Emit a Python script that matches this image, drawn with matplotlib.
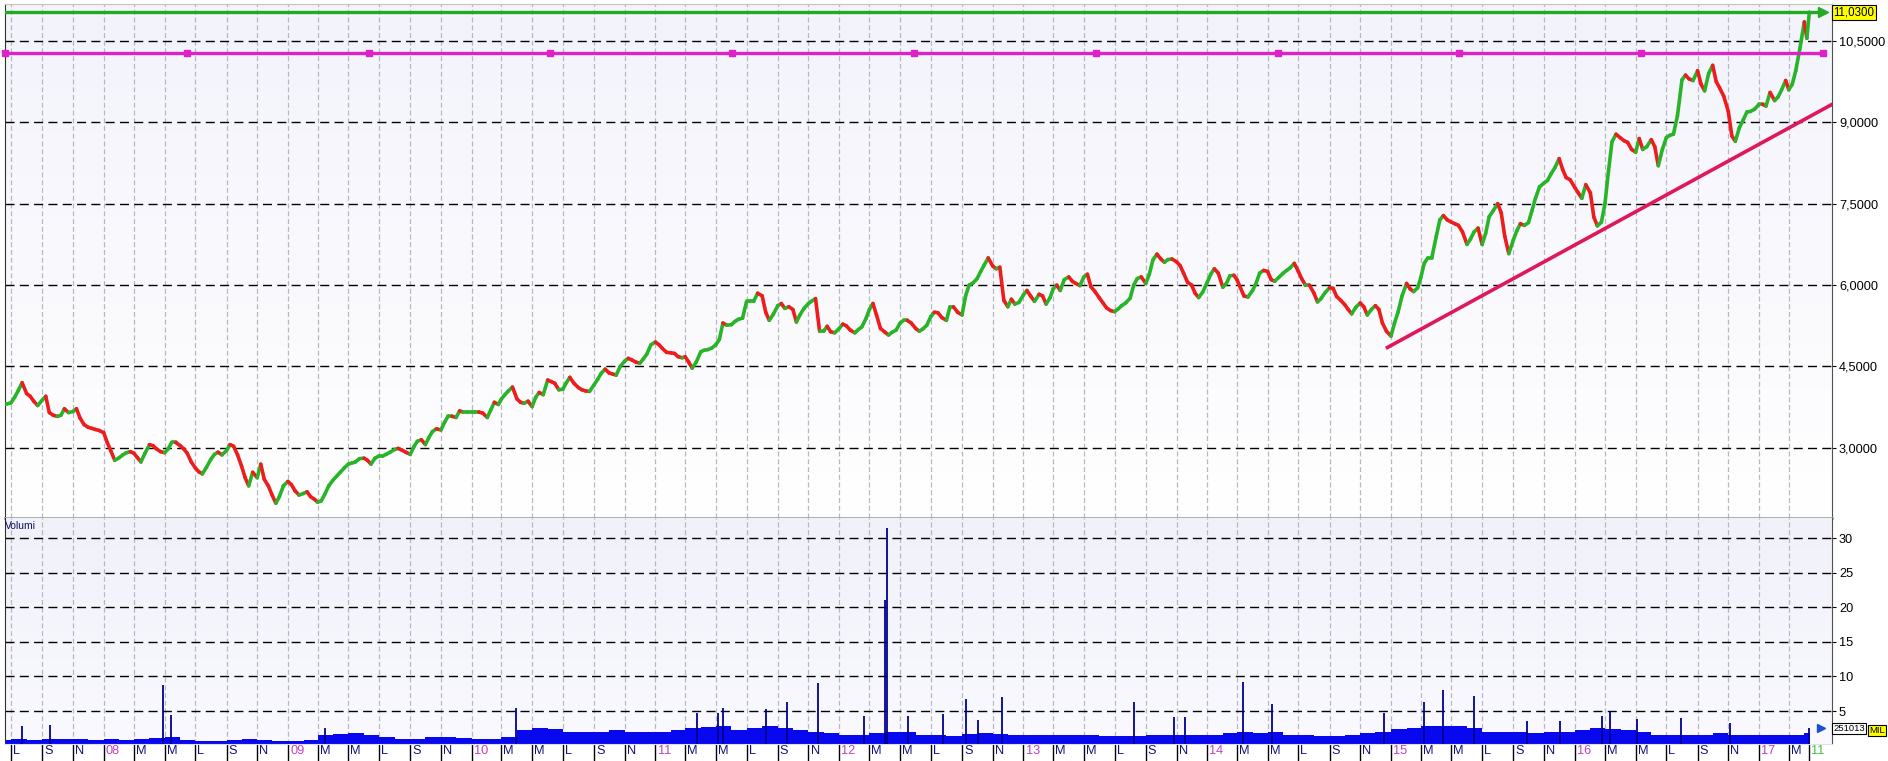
import numpy as np
import pandas as pd
import matplotlib
matplotlib.use("Agg")
import matplotlib.pyplot as plt
import matplotlib.dates as mdates
import matplotlib.transforms as mtransforms
from matplotlib.collections import LineCollection

FILENAME = "out.png"
plt.rcParams['font.family'] = ['Liberation Sans', 'DejaVu Sans']

# Chiusure: per ogni mese i giorni 1, 8, 15, 23
# (2007 parte dal 15 e 23 giugno, 2017 finisce con 1, 6 e 11 aprile)
close_2007 = [3.80, 3.81,
              3.83, 3.93, 4.05, 4.20, 4.00, 3.95, 3.86, 3.78, 3.88, 3.95, 3.65, 3.60,
              3.58, 3.60, 3.72, 3.65, 3.67, 3.72, 3.55, 3.43, 3.38, 3.36, 3.34, 3.32]
close_2008 = [3.28, 3.10, 2.95, 2.77, 2.82, 2.87, 2.91, 2.93, 2.90, 2.82, 2.74, 2.90,
              3.06, 3.04, 2.98, 2.93, 2.91, 2.98, 3.10, 3.10, 3.04, 2.98, 2.90, 2.74,
              2.63, 2.56, 2.52, 2.64, 2.79, 2.88, 2.92, 2.87, 2.95, 3.06, 3.03, 2.87,
              2.66, 2.45, 2.30, 2.55, 2.45, 2.70, 2.42, 2.30, 2.12, 1.98, 2.10, 2.30]
close_2009 = [2.38, 2.32, 2.21, 2.13, 2.16, 2.19, 2.10, 2.05, 2.00, 2.02, 2.14, 2.30,
              2.41, 2.48, 2.55, 2.63, 2.70, 2.72, 2.74, 2.80, 2.81, 2.77, 2.70, 2.81,
              2.85, 2.85, 2.88, 2.92, 2.97, 2.99, 2.96, 2.92, 2.88, 3.02, 3.12, 3.15,
              3.06, 3.19, 3.30, 3.35, 3.33, 3.47, 3.58, 3.58, 3.56, 3.68, 3.66, 3.66]
close_2010 = [3.66, 3.66, 3.66, 3.64, 3.56, 3.70, 3.84, 3.80, 3.90, 3.98, 4.05, 4.12,
              3.90, 3.84, 3.82, 3.86, 3.76, 3.93, 4.02, 3.98, 4.25, 4.22, 4.19, 4.07,
              4.08, 4.20, 4.30, 4.19, 4.11, 4.07, 4.05, 4.04, 4.16, 4.26, 4.37, 4.45,
              4.38, 4.36, 4.34, 4.50, 4.60, 4.65, 4.62, 4.58, 4.56, 4.64, 4.73, 4.90]
close_2011 = [4.95, 4.90, 4.83, 4.76, 4.75, 4.74, 4.68, 4.66, 4.68, 4.58, 4.47, 4.58,
              4.77, 4.80, 4.81, 4.84, 4.90, 5.00, 5.30, 5.26, 5.27, 5.33, 5.37, 5.39,
              5.70, 5.70, 5.70, 5.85, 5.80, 5.50, 5.35, 5.46, 5.62, 5.66, 5.57, 5.60,
              5.55, 5.32, 5.45, 5.57, 5.66, 5.71, 5.75, 5.15, 5.15, 5.24, 5.14, 5.12]
close_2012 = [5.20, 5.28, 5.25, 5.17, 5.12, 5.18, 5.23, 5.38, 5.55, 5.66, 5.45, 5.20,
              5.13, 5.08, 5.13, 5.17, 5.30, 5.35, 5.35, 5.30, 5.20, 5.15, 5.19, 5.26,
              5.42, 5.50, 5.49, 5.40, 5.35, 5.60, 5.60, 5.50, 5.45, 5.80, 6.00, 6.04,
              6.12, 6.25, 6.37, 6.50, 6.35, 6.30, 6.33, 5.72, 5.60, 5.74, 5.65, 5.68]
close_2013 = [5.82, 5.90, 5.80, 5.70, 5.83, 5.80, 5.65, 5.77, 5.93, 6.00, 5.90, 6.10,
              6.15, 6.07, 6.03, 5.99, 6.15, 6.20, 5.97, 5.88, 5.76, 5.67, 5.58, 5.53,
              5.51, 5.56, 5.62, 5.67, 5.76, 6.00, 6.12, 6.15, 6.03, 6.20, 6.46, 6.57,
              6.48, 6.42, 6.47, 6.48, 6.43, 6.36, 6.22, 6.05, 6.00, 5.85, 5.77, 5.87]
close_2014 = [6.05, 6.20, 6.30, 6.22, 5.96, 6.03, 6.17, 6.18, 6.10, 5.95, 5.80, 5.78,
              5.90, 6.03, 6.22, 6.27, 6.25, 6.10, 6.07, 6.14, 6.22, 6.27, 6.32, 6.40,
              6.25, 6.11, 6.00, 6.00, 5.85, 5.69, 5.75, 5.86, 5.95, 5.94, 5.79, 5.72,
              5.64, 5.55, 5.47, 5.59, 5.67, 5.60, 5.45, 5.55, 5.62, 5.55, 5.30, 5.15]
close_2015 = [5.06, 5.30, 5.50, 5.80, 6.03, 5.93, 5.88, 5.95, 6.13, 6.40, 6.50, 6.50,
              6.90, 7.20, 7.28, 7.20, 7.16, 7.13, 7.10, 6.98, 6.75, 6.85, 6.98, 7.05,
              6.75, 6.95, 7.26, 7.37, 7.50, 7.33, 6.90, 6.58, 6.83, 7.00, 7.13, 7.10,
              7.15, 7.37, 7.60, 7.81, 7.88, 7.93, 8.05, 8.17, 8.33, 8.13, 7.98, 7.94]
close_2016 = [7.80, 7.70, 7.60, 7.85, 7.70, 7.25, 7.09, 7.16, 7.50, 8.10, 8.64, 8.78,
              8.71, 8.66, 8.63, 8.50, 8.45, 8.70, 8.50, 8.55, 8.68, 8.55, 8.20, 8.50,
              8.72, 8.76, 8.78, 9.12, 9.78, 9.87, 9.80, 9.77, 9.95, 9.70, 9.58, 9.90,
              10.05, 9.75, 9.63, 9.48, 9.20, 8.75, 8.65, 8.90, 9.05, 9.19, 9.20, 9.24]
close_2017 = [9.33, 9.33, 9.30, 9.55, 9.40, 9.47, 9.60, 9.77, 9.60, 9.70, 9.95, 10.35,
              10.85, 10.55, 11.03]

# Volumi medi mensili (milioni) e picchi giornalieri
vol_2007 = [0.8, 0.9, 0.8, 1.0, 0.9, 0.9, 0.8]
vol_2008 = [0.9, 0.8, 0.9, 1.1, 1.3, 0.8, 0.7, 0.7, 0.8, 0.9, 0.8, 0.7]
vol_2009 = [0.7, 0.8, 1.5, 1.7, 1.8, 1.6, 1.2, 1.0, 1.0, 1.2, 1.2, 1.1]
vol_2010 = [1.0, 1.0, 1.2, 2.3, 2.6, 2.4, 2.0, 1.9, 2.0, 2.2, 2.0, 1.9]
vol_2011 = [2.0, 2.2, 2.5, 2.7, 2.8, 2.3, 2.5, 2.9, 2.5, 2.2, 2.0, 1.8]
vol_2012 = [1.6, 1.5, 1.8, 2.0, 1.9, 1.6, 1.5, 1.4, 1.7, 1.8, 1.7, 1.5]
vol_2013 = [1.5, 1.6, 1.6, 1.5, 1.5, 1.4, 1.4, 1.4, 1.5, 1.6, 1.6, 1.5]
vol_2014 = [1.6, 1.8, 2.0, 1.8, 1.9, 1.6, 1.5, 1.4, 1.4, 1.6, 1.8, 1.9]
vol_2015 = [2.4, 2.6, 2.8, 2.9, 2.8, 2.5, 2.0, 1.9, 1.9, 1.8, 1.9, 2.0]
vol_2016 = [2.3, 2.5, 2.4, 2.3, 2.0, 1.6, 1.5, 1.6, 1.5, 1.8, 1.6, 1.5]
vol_2017 = [1.5, 1.6, 1.5, 1.8]

spike_dates = ["2007-07-22", "2007-09-16", "2008-04-27", "2008-05-13", "2009-03-15",
               "2010-03-31", "2011-03-24", "2011-05-06", "2011-05-15", "2011-08-08",
               "2011-09-19", "2011-11-20", "2012-02-20", "2012-03-31", "2012-04-04",
               "2012-05-17", "2012-07-26", "2012-09-08", "2012-10-02", "2012-11-19",
               "2013-08-09", "2013-10-27", "2013-11-18", "2014-03-13", "2014-05-10",
               "2014-12-19", "2015-03-07", "2015-04-14", "2015-06-14", "2015-09-29",
               "2015-12-03", "2016-02-25", "2016-03-12", "2016-05-03", "2016-07-31",
               "2016-11-05", "2017-04-10"]
spike_vals = [2.8, 3.0, 8.7, 4.4, 2.5,
              5.4, 4.7, 4.7, 5.4, 5.3,
              6.3, 9.1, 4.3, 21.0, 31.5,
              4.3, 4.5, 6.8, 3.7, 7.0,
              6.3, 4.1, 4.1, 9.2, 6.0,
              4.7, 6.3, 8.0, 7.1, 3.6,
              3.6, 4.3, 4.9, 3.8, 4.0,
              3.2, 2.5]

ultimo_prezzo = 11.03
ultimo_volume = 2.51013
resistenza = 10.28
trend_x = ["2014-12-25", "2017-05-26"]
trend_y = [4.85, 9.33]

x_start, x_end = pd.Timestamp("2007-06-19"), pd.Timestamp("2017-05-26")
line_end = pd.Timestamp("2017-05-08")

price_ticks = [3.0, 4.5, 6.0, 7.5, 9.0, 10.5]
vol_ticks = [5, 10, 15, 20, 25, 30]
month_names = {1: None, 3: "M", 5: "M", 7: "L", 9: "S", 11: "N"}

# --- date ---
closes = close_2007 + close_2008 + close_2009 + close_2010 + close_2011 + close_2012 \
    + close_2013 + close_2014 + close_2015 + close_2016 + close_2017
giorni = [pd.Timestamp("2007-06-15"), pd.Timestamp("2007-06-23")]
for m in pd.date_range("2007-07-01", "2017-03-01", freq="MS"):
    for off in (0, 7, 14, 22):
        giorni.append(m + pd.Timedelta(days=off))
giorni += [pd.Timestamp("2017-04-01"), pd.Timestamp("2017-04-06"), pd.Timestamp("2017-04-11")]
dates = pd.DatetimeIndex(giorni)
assert len(dates) == len(closes)

vols = vol_2007 + vol_2008 + vol_2009 + vol_2010 + vol_2011 + vol_2012 \
    + vol_2013 + vol_2014 + vol_2015 + vol_2016 + vol_2017
vdates = pd.date_range("2007-06-01", "2017-04-01", freq="MS")
assert len(vdates) == len(vols)
vdates = vdates.append(pd.DatetimeIndex([pd.Timestamp("2017-04-12")]))
vols = vols + [vols[-1]]

W, H = 1888, 761
fig = plt.figure(figsize=(W / 100, H / 100), dpi=100)
fig.patch.set_facecolor("white")
ax = fig.add_axes([5 / W, 1 - 518 / H, 1827 / W, 514 / H])
axv = fig.add_axes([5 / W, 1 - 744 / H, 1827 / W, 226 / H], sharex=ax)

# sfondi sfumati
grad = np.linspace(0, 1, 256).reshape(-1, 1)
top_c = np.array([243, 243, 252]) / 255
bot_c = np.array([255, 255, 255]) / 255
img = top_c + (bot_c - top_c) * grad[..., None]
ax.imshow(img, extent=[0, 1, 0, 1], transform=ax.transAxes, aspect="auto", zorder=0)
top_v = np.array([241, 241, 250]) / 255
bot_v = np.array([249, 249, 255]) / 255
img_v = top_v + (bot_v - top_v) * grad[..., None]
axv.imshow(img_v, extent=[0, 1, 0, 1], transform=axv.transAxes, aspect="auto", zorder=0)

# griglie
tick_dates = pd.date_range("2007-07-01", "2017-03-01", freq="2MS")
grid_kw = dict(color="#b8b8c4", lw=0.9, linestyle=(0, (4, 2.2)), zorder=1)
dash_kw = dict(color="black", lw=1.0, linestyle=(0, (6.5, 3.8)), zorder=1)
for a in (ax, axv):
    for d in tick_dates:
        a.axvline(d, **grid_kw)
for p in price_ticks:
    ax.axhline(p, **dash_kw)
for v in vol_ticks:
    axv.axhline(v, **dash_kw)

# prezzi: segmenti verdi in salita, rossi in discesa
xn = mdates.date2num(dates)
segs = [[(xn[i - 1], closes[i - 1]), (xn[i], closes[i])] for i in range(1, len(closes))]
cols = ['#28b428' if closes[i] >= closes[i - 1] else '#ee1c1c' for i in range(1, len(closes))]
ax.add_collection(LineCollection(segs, colors=cols, linewidths=2.6, zorder=3,
                                 capstyle="round", joinstyle="round"))

# linee orizzontali e trendline
ax.plot([x_start, line_end], [ultimo_prezzo, ultimo_prezzo], color="#22aa22", lw=2.4, zorder=4)
ax.plot([line_end], [ultimo_prezzo], marker=">", color="#22aa22", ms=7, zorder=4, clip_on=False)
ax.plot([x_start, line_end], [resistenza, resistenza], color="#dd22c8", lw=2.4, zorder=4)
mk = pd.to_datetime(np.linspace(x_start.value, line_end.value, 11))
ax.plot(mk, [resistenza] * len(mk), ls="none", marker="s", ms=4.5, color="#dd22c8", zorder=4,
        clip_on=False)
ax.plot(pd.to_datetime(trend_x), trend_y, color="#e0185a", lw=2.6, zorder=4)

# volumi
axv.fill_between(vdates, vols, step="post", color="#0808ee", lw=0, zorder=2)
axv.vlines(pd.to_datetime(spike_dates), 0, spike_vals, color="#000090", lw=1.3, zorder=3)
axv.plot([pd.Timestamp("2017-05-04")], [ultimo_volume], marker=">", color="#1a4fd0", ms=6,
         zorder=4, clip_on=False)

ax.set_xlim(x_start, x_end)
ax.set_ylim(1.707, 11.18)
axv.set_ylim(0.23, 32.9)

# assi a destra
fmt = lambda v: f"{v:.4f}".replace(".", ",")
ax.yaxis.tick_right()
ax.set_yticks(price_ticks)
ax.set_yticklabels([fmt(p) for p in price_ticks], fontsize=9.2)
axv.yaxis.tick_right()
axv.set_yticks(vol_ticks)
axv.set_yticklabels([str(v) for v in vol_ticks], fontsize=9.2)
for a in (ax, axv):
    a.tick_params(axis="y", length=3, width=0.8, pad=2, colors="black")

# etichette date
labels, lcolors = [], []
for d in tick_dates:
    name = month_names[d.month]
    if name is None:
        labels.append(f"{d.year % 100:02d}")
        lcolors.append("#c040c8")
    else:
        labels.append(name)
        lcolors.append("#101080")
xt = list(tick_dates) + [pd.Timestamp("2017-04-11")]
labels.append("11")
lcolors.append("#40c040")
axv.set_xticks(xt)
axv.set_xticklabels(labels, fontsize=9.2, ha="left")
axv.tick_params(axis="x", length=12, width=1.0, direction="out", pad=-11.5)
ax.tick_params(axis="x", labelbottom=False, length=0)
offset = mtransforms.ScaledTranslation(1.5 / 72, 0, fig.dpi_scale_trans)
for t, lab, c in zip(axv.xaxis.get_major_ticks(), axv.get_xticklabels(), lcolors):
    t.tick1line.set_color(c)
    lab.set_color(c)
    lab.set_transform(lab.get_transform() + offset)

# bordi
for a in (ax, axv):
    a.spines["left"].set_color("#303030")
    a.spines["right"].set_color("#505050")
ax.spines["top"].set_color("#c8c4b0")
ax.spines["bottom"].set_color("#a0a8a8")
ax.spines["bottom"].set_linewidth(2)
axv.spines["top"].set_visible(False)
axv.spines["bottom"].set_color("#e0e0e8")

axv.text(0.0, 0.985, "Volumi", transform=axv.transAxes, fontsize=7.5, color="#101060",
         ha="left", va="top")

# box ultimo prezzo e ultimo volume
ax.text(1.0007, ultimo_prezzo, fmt(ultimo_prezzo), transform=ax.get_yaxis_transform(),
        fontsize=8.3, va="center", ha="left",
        bbox=dict(boxstyle="square,pad=0.12", fc="#ffff00", ec="black", lw=0.8))
axv.text(1.0007, ultimo_volume, "251013", transform=axv.get_yaxis_transform(),
         fontsize=6.8, va="center", ha="left",
         bbox=dict(boxstyle="square,pad=0.12", fc="white", ec="black", lw=0.8))
axv.text(1.0205, ultimo_volume - 0.3, "MIL", transform=axv.get_yaxis_transform(),
         fontsize=6.8, va="center", ha="left",
         bbox=dict(boxstyle="square,pad=0.12", fc="#ffff00", ec="black", lw=0.8))

plt.savefig(FILENAME, dpi=100)
